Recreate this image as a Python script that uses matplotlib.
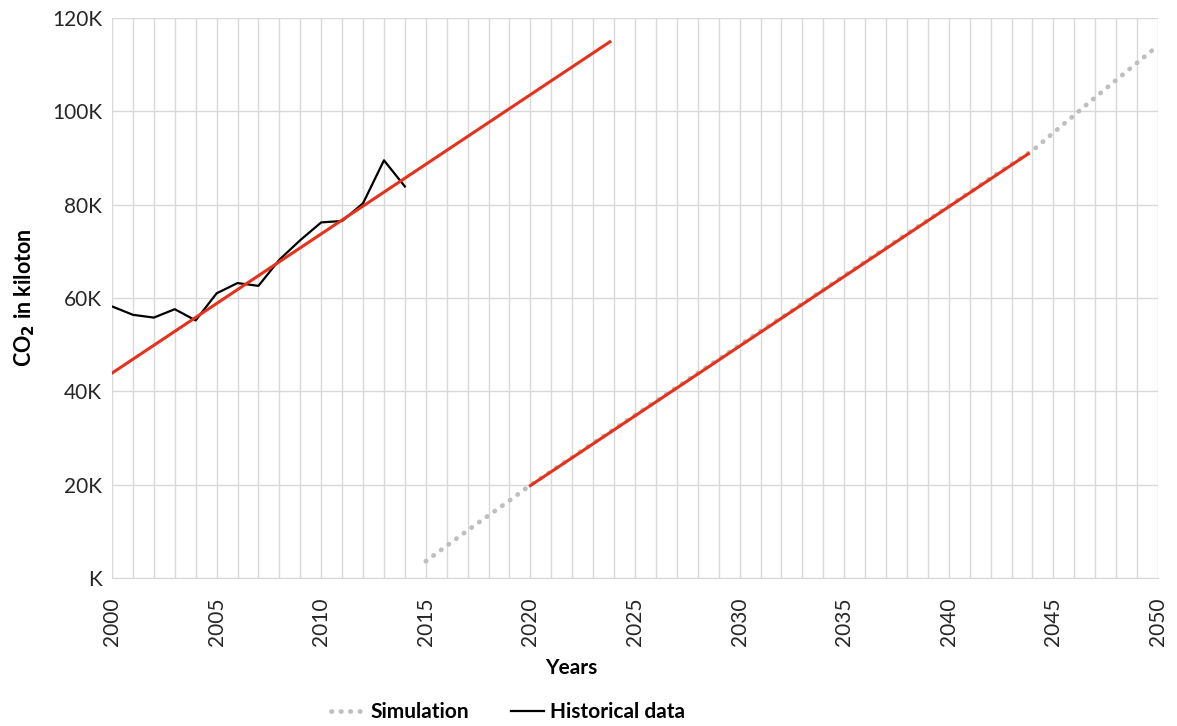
import numpy as np
import matplotlib.pyplot as plt
from matplotlib.ticker import MultipleLocator, FuncFormatter

plt.rcParams['font.family'] = ['Lato', 'DejaVu Sans']

# Historical emissions (kiloton)
hist_years = np.arange(2000, 2015)
hist_co2 = [58200, 56400, 55800, 57600, 55200, 61000, 63200, 62600,
            68200, 72400, 76200, 76500, 80300, 89500, 83900]

# Simulated emissions (kiloton)
sim_years = np.arange(2015, 2051)
sim_co2 = [3600, 6900, 10200, 13400, 16600, 19900, 22900, 25900, 28900, 31900,
           34900, 37900, 40900, 43900, 46900, 49900, 52900, 55800, 58800, 61800,
           64800, 67800, 70800, 73800, 76700, 79700, 82700, 85700, 88700, 91600,
           95400, 99200, 103000, 106700, 110400, 114100]

# Linear trend lines (start year, end year, start value, end value)
trend_hist = ([2000, 2023.8], [43900, 114900])
trend_sim = ([2020, 2043.8], [19800, 90900])

red = '#E4321B'

fig = plt.figure(figsize=(11.77, 7.26), dpi=100)
ax = fig.add_axes([112 / 1177, 1 - 578 / 726, 1046 / 1177, 560 / 726])

ax.plot(sim_years, sim_co2, color='#BFBFBF', lw=3.4, linestyle=(0, (0.1, 1.9)),
        dash_capstyle='round', label='Simulation', zorder=2)
ax.plot(hist_years, hist_co2, color='black', lw=1.6, label='Historical data', zorder=3)
ax.plot(*trend_hist, color=red, lw=2.2, zorder=4)
ax.plot(*trend_sim, color=red, lw=2.2, zorder=4)

ax.set_xlim(2000, 2050)
ax.set_ylim(0, 120000)
ax.xaxis.set_major_locator(MultipleLocator(5))
ax.xaxis.set_minor_locator(MultipleLocator(1))
ax.yaxis.set_major_locator(MultipleLocator(20000))
ax.yaxis.set_major_formatter(FuncFormatter(lambda v, p: f'{int(v / 1000)}K' if v else 'K'))
ax.grid(which='both', axis='x', color='#D9D9D9', lw=1)
ax.grid(which='major', axis='y', color='#D9D9D9', lw=1)
ax.set_axisbelow(True)

for side in ['top', 'right', 'left']:
    ax.spines[side].set_visible(False)
ax.spines['bottom'].set_color('#D9D9D9')

ax.tick_params(axis='both', which='both', length=0, labelsize=15, colors='#262626')
ax.tick_params(axis='x', pad=14, labelrotation=90)
ax.tick_params(axis='y', pad=7)

fig.text(25 / 1177, 1 - 298 / 726, 'CO$_\\mathbf{2}$ in kiloton', rotation=90,
         ha='center', va='center', fontsize=15.5, fontweight='bold')
fig.text(571 / 1177, 1 - 668 / 726, 'Years', ha='center', va='center',
         fontsize=15, fontweight='bold')

fig.legend(loc='center', bbox_to_anchor=(508 / 1177, 1 - 712 / 726), ncol=2,
           frameon=False, handlelength=1.6, handletextpad=0.3, columnspacing=2.0,
           prop={'size': 15, 'weight': 'bold'})

fig.savefig('out.png', dpi=100)
